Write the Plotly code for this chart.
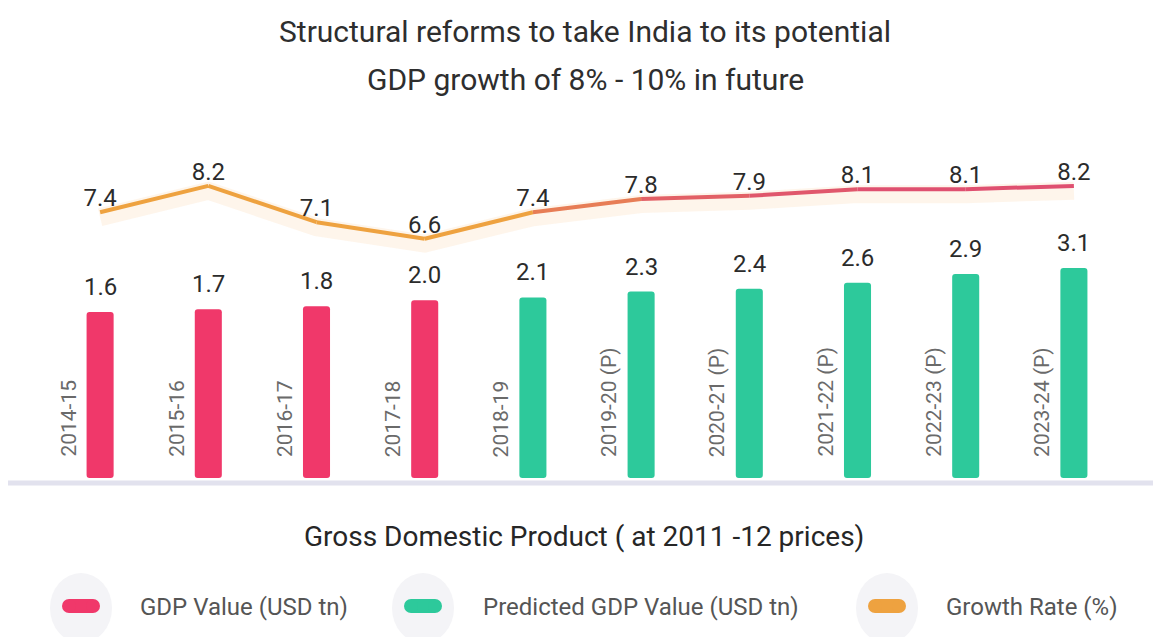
import plotly.graph_objects as go

# ---- data ----
years = ["2014-15", "2015-16", "2016-17", "2017-18", "2018-19",
         "2019-20 (P)", "2020-21 (P)", "2021-22 (P)", "2022-23 (P)", "2023-24 (P)"]
gdp_actual = [1.6, 1.7, 1.8, 2.0, None, None, None, None, None, None]
gdp_predicted = [None, None, None, None, 2.1, 2.3, 2.4, 2.6, 2.9, 3.1]
growth_rate = [7.4, 8.2, 7.1, 6.6, 7.4, 7.8, 7.9, 8.1, 8.1, 8.2]

# ---- layout constants ----
W, H = 1153, 637
M_L, M_R, M_T, M_B = 46, 25, 140, 159
PLOT_W = W - M_L - M_R
PLOT_H = H - M_T - M_B

BAR_FLOOR = -4.06          # bar axis bottom; bars rise from here
BAR_TOP = 7.47
LINE_RANGE = [-0.65, 9.59]

PINK = "#f0386a"
GREEN = "#2dc99b"
ORANGE = "#eea240"
FONT = "Roboto"


def px_x(x):
    return (x - M_L) / PLOT_W


def px_y(y):
    return (H - M_B - y) / PLOT_H


def mix(c1, c2, t):
    a = [int(c1[i:i + 2], 16) for i in (1, 3, 5)]
    b = [int(c2[i:i + 2], 16) for i in (1, 3, 5)]
    return "#" + "".join(f"{round(a[k] + (b[k] - a[k]) * t):02x}" for k in range(3))


fig = go.Figure()


def bar_trace(values, color, name):
    lengths = [None if v is None else v - BAR_FLOOR for v in values]
    return go.Bar(
        x=years, y=lengths, base=BAR_FLOOR, name=name,
        marker=dict(color=color, line=dict(width=0)),
        width=0.25, yaxis="y2",
        hoverinfo="skip", showlegend=False,
    )


fig.add_trace(bar_trace(gdp_actual, PINK, "GDP Value (USD tn)"))
fig.add_trace(bar_trace(gdp_predicted, GREEN, "Predicted GDP Value (USD tn)"))

# soft glow under the growth line
fig.add_trace(go.Scatter(
    x=years, y=[v - 0.15 for v in growth_rate], mode="lines",
    line=dict(color="rgba(245,170,90,0.12)", width=18, shape="linear"),
    hoverinfo="skip", showlegend=False,
))

# growth line, segment by segment so the colour can shift from orange to rose
seg_colors = [ORANGE] * 4 + [mix(ORANGE, "#df5070", t) for t in (0.45, 0.8, 0.92, 1.0, 1.0)]
for i in range(len(years) - 1):
    fig.add_trace(go.Scatter(
        x=years[i:i + 2], y=growth_rate[i:i + 2], mode="lines",
        line=dict(color=seg_colors[i], width=4),
        hoverinfo="skip", showlegend=False,
    ))

fig.add_trace(go.Scatter(
    x=years, y=growth_rate, mode="text",
    text=[f"{v:.1f}" for v in growth_rate], textposition="top center",
    textfont=dict(family=FONT, size=24, color="#2b2b2b"),
    cliponaxis=False, hoverinfo="skip", showlegend=False,
))

annotations = []
shapes = []

# value labels above the bars
for yr, a, p in zip(years, gdp_actual, gdp_predicted):
    v = a if a is not None else p
    annotations.append(dict(
        x=yr, xref="x", y=v, yref="y2", text=f"{v:.1f}", showarrow=False,
        xanchor="center", yanchor="bottom", yshift=9,
        font=dict(family=FONT, size=24, color="#2b2b2b"),
    ))

# title, two centred lines
for text, cy in (("Structural reforms to take India to its potential", 31),
                 ("GDP growth of 8% - 10% in future", 79)):
    annotations.append(dict(
        x=px_x(585), xref="paper", y=px_y(cy), yref="paper",
        text=text, showarrow=False, xanchor="center", yanchor="middle",
        font=dict(family=FONT, size=30, color="#2e2e2e"),
    ))

# year labels, rotated, to the left of each bar
for yr in years:
    annotations.append(dict(
        x=yr, xref="x", y=px_y(459), yref="paper",
        text=yr, textangle=-90, showarrow=False,
        xshift=-32, xanchor="center", yanchor="bottom",
        font=dict(family=FONT, size=21, color="#6a6a6a"),
    ))

# baseline under the bars
shapes.append(dict(
    type="line", xref="paper", yref="paper",
    x0=px_x(8), x1=px_x(W), y0=px_y(483), y1=px_y(483),
    line=dict(color="#e2e2ee", width=5),
))

# subtitle under the chart
annotations.append(dict(
    x=px_x(584), xref="paper", y=px_y(536), yref="paper",
    text="Gross Domestic Product ( at 2011 -12 prices)", showarrow=False,
    xanchor="center", yanchor="middle",
    font=dict(family=FONT, size=28, color="#262626"),
))

# legend drawn by hand: grey disc, pill swatch, label
legend_items = [
    (81, PINK, "GDP Value (USD tn)", 138),
    (423, GREEN, "Predicted GDP Value (USD tn)", 481),
    (887, ORANGE, "Growth Rate (%)", 944),
]
for cx, color, label, tx in legend_items:
    cy = 606
    r = 33
    shapes.append(dict(
        type="circle", xref="paper", yref="paper",
        x0=px_x(cx - r + 2), x1=px_x(cx + r - 2), y0=px_y(cy + r + 4), y1=px_y(cy - r),
        fillcolor="#f4f4f7", line=dict(width=0), layer="below",
    ))
    hw, hh = 19, 7
    shapes.append(dict(
        type="rect", xref="paper", yref="paper",
        x0=px_x(cx - hw + hh), x1=px_x(cx + hw - hh), y0=px_y(cy + hh), y1=px_y(cy - hh),
        fillcolor=color, line=dict(width=0),
    ))
    for ex in (cx - hw + hh, cx + hw - hh):
        shapes.append(dict(
            type="circle", xref="paper", yref="paper",
            x0=px_x(ex - hh), x1=px_x(ex + hh), y0=px_y(cy + hh), y1=px_y(cy - hh),
            fillcolor=color, line=dict(width=0),
        ))
    annotations.append(dict(
        x=px_x(tx), xref="paper", y=px_y(cy + 1), yref="paper",
        text=label, showarrow=False, xanchor="left", yanchor="middle",
        font=dict(family=FONT, size=24, color="#555555"),
    ))

fig.update_layout(
    width=W, height=H,
    margin=dict(l=M_L, r=M_R, t=M_T, b=M_B),
    paper_bgcolor="white", plot_bgcolor="white",
    xaxis=dict(type="category", range=[-0.5, 9.5], showticklabels=False,
               showgrid=False, zeroline=False, showline=False, ticks=""),
    yaxis=dict(range=LINE_RANGE, visible=False, showgrid=False, zeroline=False),
    yaxis2=dict(range=[BAR_FLOOR, BAR_TOP], overlaying="y", visible=False,
                showgrid=False, zeroline=False),
    barmode="overlay", bargap=0.75,
    barcornerradius=3,
    showlegend=False,
    annotations=annotations, shapes=shapes,
)

fig.write_html("out.html")
